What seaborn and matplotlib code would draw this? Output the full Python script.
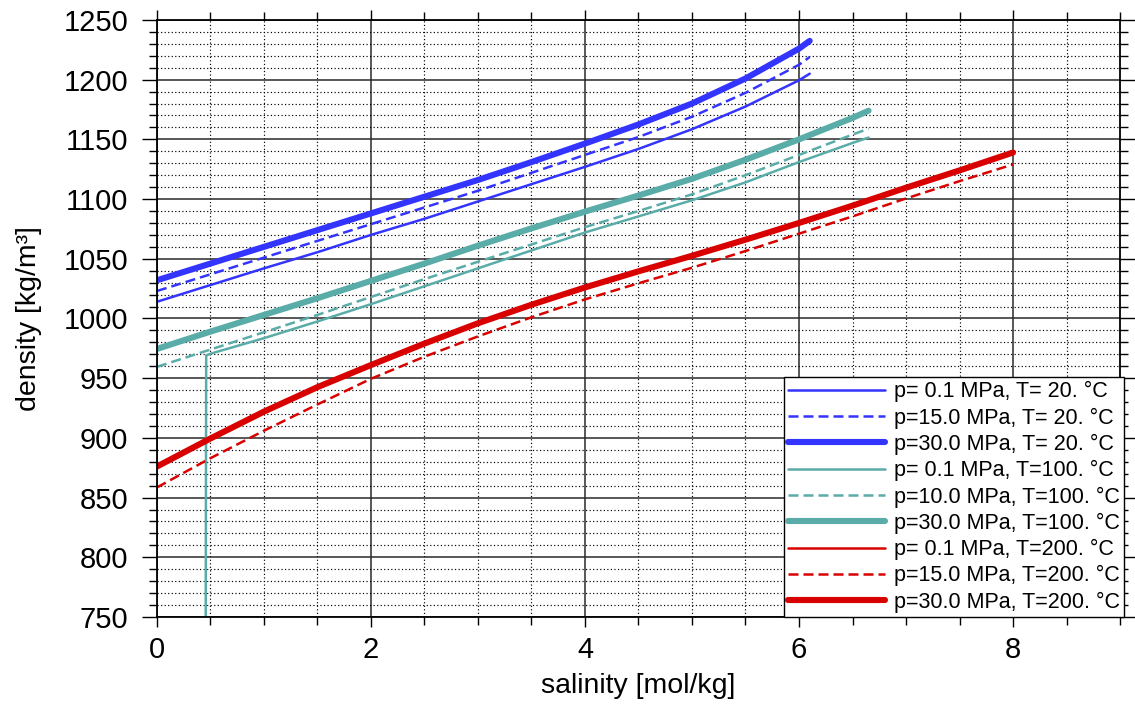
import numpy as np
import pandas as pd
import matplotlib
matplotlib.use("Agg")
import matplotlib.pyplot as plt
import seaborn as sns
from matplotlib.ticker import MultipleLocator

sns.set_style("white")
plt.rcParams['font.family'] = ['Liberation Sans', 'DejaVu Sans']
plt.rcParams['text.color'] = 'black'
plt.rcParams['axes.labelcolor'] = 'black'
plt.rcParams['xtick.color'] = 'black'
plt.rcParams['ytick.color'] = 'black'

# ---------------- data ----------------
# T = 20 °C
sal_T20 = [0, 0.5, 1, 1.5, 2, 2.5, 3, 3.5, 4, 4.5, 5, 5.5, 6, 6.1]
rho_T20_p01 = [1014, 1028, 1042, 1055.5, 1070, 1083.5, 1098, 1112.5, 1127, 1142, 1158.5, 1177.5, 1199.5, 1205]
rho_T20_p15 = [1023, 1037, 1051, 1065, 1079, 1093, 1107, 1122, 1137, 1152, 1169, 1189, 1212.5, 1219]
rho_T20_p30 = [1032, 1046, 1060, 1074, 1088, 1102, 1116, 1131, 1146.5, 1162.5, 1180, 1201, 1226, 1232.5]

# T = 100 °C
sal_T100_p01 = [0, 0.44, 0.46, 0.5, 1, 1.5, 2, 2.5, 3, 3.5, 4, 4.5, 5, 5.5, 6, 6.5, 6.65]
rho_T100_p01 = [0.59, 0.59, 969, 970.5, 983.5, 997.5, 1012, 1027, 1042, 1057, 1072, 1085.5, 1099, 1114, 1131, 1147, 1151.5]
sal_T100 = [0, 0.5, 1, 1.5, 2, 2.5, 3, 3.5, 4, 4.5, 5, 5.5, 6, 6.5, 6.65]
rho_T100_p10 = [959.5, 974, 988.5, 1003, 1018, 1033, 1047.5, 1062, 1076.5, 1090, 1104, 1120, 1137, 1154, 1159]
rho_T100_p30 = [974.5, 989, 1003, 1017, 1031.5, 1046, 1061, 1075.5, 1089.5, 1103, 1117, 1133, 1150, 1168, 1174]

# T = 200 °C
sal_T200_p01 = [0, 8]
rho_T200_p01 = [0.46, 0.46]
sal_T200 = [0, 0.5, 1, 1.5, 2, 2.5, 3, 3.5, 4, 4.5, 5, 5.5, 6, 6.5, 7, 7.5, 8]
rho_T200_p15 = [858.5, 883, 906, 928, 949.5, 968, 985, 1001, 1016, 1029.5, 1042.5, 1056.5, 1071, 1085.5, 1100.5, 1115, 1129]
rho_T200_p30 = [876, 899.5, 922, 942.5, 961, 979, 996, 1011.5, 1026, 1039.5, 1052.5, 1066, 1080, 1094.5, 1109.5, 1124, 1139]

labels = ["p= 0.1 MPa, T= 20. °C", "p=15.0 MPa, T= 20. °C", "p=30.0 MPa, T= 20. °C",
          "p= 0.1 MPa, T=100. °C", "p=10.0 MPa, T=100. °C", "p=30.0 MPa, T=100. °C",
          "p= 0.1 MPa, T=200. °C", "p=15.0 MPa, T=200. °C", "p=30.0 MPa, T=200. °C"]

x_ticks = [0, 2, 4, 6, 8]
y_ticks = [750, 800, 850, 900, 950, 1000, 1050, 1100, 1150, 1200, 1250]

# ---------------- styles ----------------
BLUE = "#3434ff"
TEAL = "#5aaca8"
RED = "#d90000"
thin, thick = 1.8, 4.4
dash = (0, (4, 2))

series = [
    (sal_T20, rho_T20_p01, BLUE, thin, "-"),
    (sal_T20, rho_T20_p15, BLUE, thin, dash),
    (sal_T20, rho_T20_p30, BLUE, thick, "-"),
    (sal_T100_p01, rho_T100_p01, TEAL, thin, "-"),
    (sal_T100, rho_T100_p10, TEAL, thin, dash),
    (sal_T100, rho_T100_p30, TEAL, thick, "-"),
    (sal_T200_p01, rho_T200_p01, RED, thin, "-"),
    (sal_T200, rho_T200_p15, RED, thin, dash),
    (sal_T200, rho_T200_p30, RED, thick, "-"),
]

fig = plt.figure(figsize=(11.35, 7.06), dpi=100)
ax = fig.add_axes([0.1383, 0.1261, 0.8485, 0.8456])

for (xs, ys, col, lw, ls), lab in zip(series, labels):
    df = pd.DataFrame({"salinity": xs, "density": ys})
    sns.lineplot(data=df, x="salinity", y="density", ax=ax, color=col,
                 linewidth=lw, linestyle=ls, label=lab, sort=True,
                 solid_capstyle="round", solid_joinstyle="round", dash_capstyle="butt")

ax.set_xlim(0, 9)
ax.set_ylim(750, 1250)
ax.set_xticks(x_ticks)
ax.set_yticks(y_ticks)
ax.xaxis.set_minor_locator(MultipleLocator(0.5))
ax.yaxis.set_minor_locator(MultipleLocator(10))

ax.set_axisbelow(True)
ax.grid(which="major", color="#2a2a2a", linewidth=1.1, linestyle="-")
ax.grid(which="minor", color="black", linewidth=0.85, linestyle=(0, (1, 2)))

for sp in ax.spines.values():
    sp.set_color("black")
    sp.set_linewidth(1.3)

ax.tick_params(axis="y", which="major", direction="out", length=10.5, width=1,
               left=True, right=True, labelsize=21, pad=10, color="black", labelcolor="black")
ax.tick_params(axis="y", which="minor", direction="out", length=5.5, width=1,
               left=True, right=True, color="black")
ax.tick_params(axis="x", which="major", direction="out", length=7.5, width=1,
               bottom=True, top=True, labelsize=21, pad=6, color="black", labelcolor="black")
ax.tick_params(axis="x", which="minor", direction="out", length=5.5, width=1,
               bottom=True, top=True, color="black")

ax.set_xlabel("salinity [mol/kg]", fontsize=20.5, labelpad=7, color="black")
ax.set_ylabel("density [kg/m³]", fontsize=20.5, labelpad=16, color="black")

leg = ax.legend(loc="lower right", bbox_to_anchor=(1.004, 0.0), borderaxespad=0,
                fontsize=15.5, handlelength=4.5, handletextpad=0.4,
                labelspacing=0.24, borderpad=0.2, frameon=True, fancybox=False,
                framealpha=1, edgecolor="black")
leg.get_frame().set_linewidth(1.0)
for t in leg.get_texts():
    t.set_color("black")

fig.savefig("out.png", dpi=100)
